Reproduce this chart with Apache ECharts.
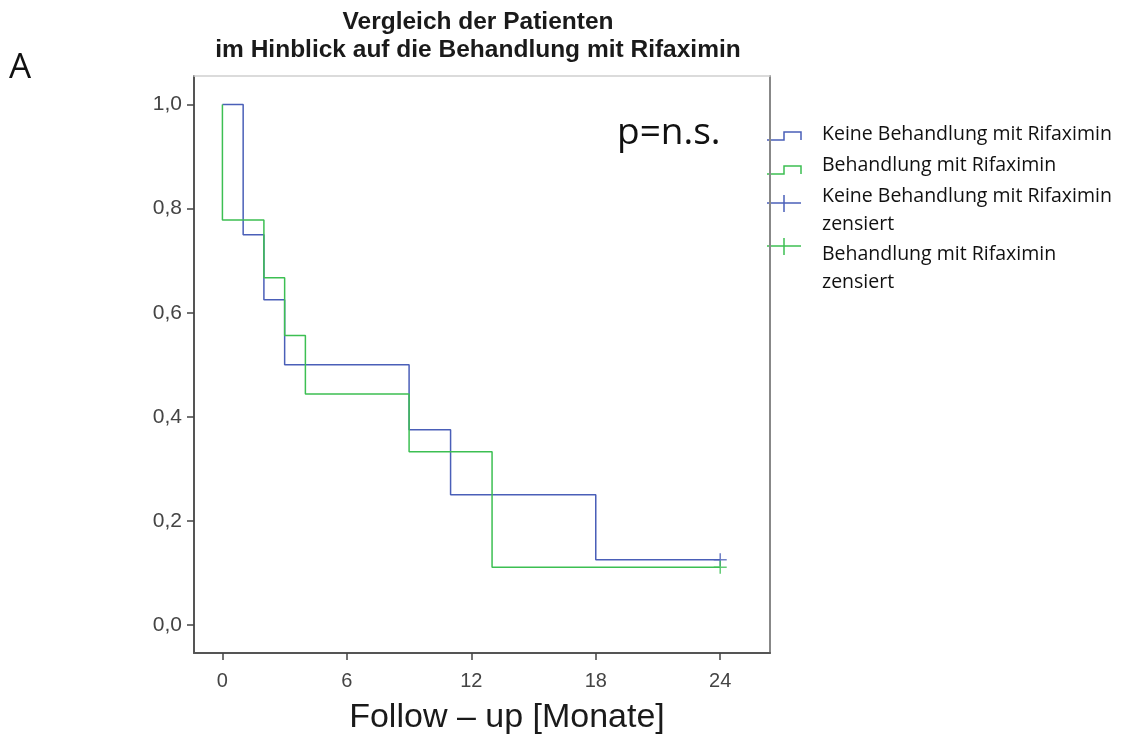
<!DOCTYPE html>
<html>
<head>
<meta charset="utf-8">
<script src="https://cdn.jsdelivr.net/npm/echarts@6/dist/echarts.min.js"></script>
<style>
html, body { margin: 0; padding: 0; background: #fff; }
#main { width: 1131px; height: 740px; }
</style>
</head>
<body>
<div id="main"></div>
<script>
// Kaplan-Meier Daten (Monate, Anteil)
var keineTime = [0, 1, 2, 3, 9, 11, 18, 24];
var keineSurv = [1.0, 0.75, 0.625, 0.5, 0.375, 0.25, 0.125, 0.125];
var rifaTime = [0, 0, 2, 3, 4, 9, 13, 24];
var rifaSurv = [1.0, 0.778, 0.667, 0.556, 0.444, 0.333, 0.111, 0.111];
// zensierte Fälle
var keineCensTime = [24];
var keineCensSurv = [0.125];
var rifaCensTime = [24];
var rifaCensSurv = [0.111];

var xTicks = [0, 6, 12, 18, 24];
var yTicks = [0, 0.2, 0.4, 0.6, 0.8, 1.0];

var BLUE = '#4a5fb8';
var GREEN = '#3cbf52';
var PLUS = 'path://M0,5 L10,5 M5,0 L5,10';
var TICKFONT = '"Liberation Sans", Arial, sans-serif';

function pairs(xs, ys) {
	return xs.map(function (x, i) { return [x, ys[i]]; });
}

var chart = echarts.init(document.getElementById('main'));

var option = {
	animation: false,
	backgroundColor: '#fff',
	title: {
		text: 'Vergleich der Patienten\nim Hinblick auf die Behandlung mit Rifaximin',
		left: 473,
		top: 3,
		textAlign: 'center',
		textStyle: {
			fontFamily: 'Liberation Sans',
			fontWeight: 'bold',
			fontSize: 24.5,
			lineHeight: 28,
			color: '#1a1a1a'
		}
	},
	grid: { left: 194, right: 361, top: 76, bottom: 86 },
	xAxis: [
		{
			type: 'value',
			min: -1.37,
			max: 26.4,
			splitLine: { show: false },
			axisLine: { onZero: false, lineStyle: { color: '#555', width: 2 } },
			axisTick: { show: true, length: 7, customValues: xTicks, lineStyle: { color: '#444', width: 1.5 } },
			axisLabel: {
				customValues: xTicks,
				fontFamily: TICKFONT,
				fontSize: 20,
				color: '#444',
				margin: 18
			},
			name: 'Follow – up [Monate]',
			nameLocation: 'middle',
			nameGap: 48,
			nameTextStyle: { fontFamily: 'Liberation Sans', fontSize: 34, color: '#1a1a1a', padding: [0, 0, 0, 50] }
		},
		{
			type: 'value',
			position: 'top',
			min: -1.37,
			max: 26.4,
			splitLine: { show: false },
			axisLine: { show: true, onZero: false, lineStyle: { color: '#d0d0d0', width: 1.5 } },
			axisTick: { show: false },
			axisLabel: { show: false }
		}
	],
	yAxis: [
		{
			type: 'value',
			min: -0.054,
			max: 1.055,
			splitLine: { show: false },
			axisLine: { show: true, onZero: false, lineStyle: { color: '#555', width: 2 } },
			axisTick: { show: true, length: 7, customValues: yTicks, lineStyle: { color: '#444', width: 1.5 } },
			axisLabel: {
				customValues: yTicks,
				fontFamily: TICKFONT,
				fontSize: 21,
				color: '#444',
				margin: 12,
				padding: [4, 0, 0, 0],
				formatter: function (v) { return v.toFixed(1).replace('.', ','); }
			}
		},
		{
			type: 'value',
			position: 'right',
			min: -0.054,
			max: 1.055,
			splitLine: { show: false },
			axisLine: { show: true, onZero: false, lineStyle: { color: '#888', width: 2 } },
			axisTick: { show: false },
			axisLabel: { show: false }
		}
	],
	series: [
		{
			name: 'Keine Behandlung mit Rifaximin',
			type: 'line',
			step: 'end',
			showSymbol: false,
			data: pairs(keineTime, keineSurv),
			lineStyle: { color: BLUE, width: 1.5 }
		},
		{
			name: 'Behandlung mit Rifaximin',
			type: 'line',
			step: 'end',
			showSymbol: false,
			data: pairs(rifaTime, rifaSurv),
			lineStyle: { color: GREEN, width: 1.5 }
		},
		{
			name: 'Keine Behandlung mit Rifaximin zensiert',
			type: 'scatter',
			symbol: PLUS,
			symbolSize: 13,
			itemStyle: { color: 'none', borderColor: BLUE, borderWidth: 1.5 },
			data: pairs(keineCensTime, keineCensSurv)
		},
		{
			name: 'Behandlung mit Rifaximin zensiert',
			type: 'scatter',
			symbol: PLUS,
			symbolSize: 13,
			itemStyle: { color: 'none', borderColor: GREEN, borderWidth: 1.5 },
			data: pairs(rifaCensTime, rifaCensSurv)
		}
	],
	graphic: [
		{ type: 'text', left: 9, top: 51, style: { text: 'A', font: '35px "Open Sans"', fill: '#111' } },
		{ type: 'text', left: 617, top: 115, style: { text: 'p=n.s.', font: '37px "Open Sans"', fill: '#111' } },
		// Legende
		{ type: 'polyline', shape: { points: [[767, 140], [784, 140], [784, 132], [801, 132], [801, 140]] }, style: { stroke: BLUE, lineWidth: 1.5, fill: null } },
		{ type: 'polyline', shape: { points: [[767, 174], [784, 174], [784, 166], [801, 166], [801, 174]] }, style: { stroke: GREEN, lineWidth: 1.5, fill: null } },
		{ type: 'polyline', shape: { points: [[767, 203], [801, 203]] }, style: { stroke: BLUE, lineWidth: 1.5 } },
		{ type: 'polyline', shape: { points: [[784, 195], [784, 212]] }, style: { stroke: BLUE, lineWidth: 1.5 } },
		{ type: 'polyline', shape: { points: [[767, 246], [801, 246]] }, style: { stroke: GREEN, lineWidth: 1.5 } },
		{ type: 'polyline', shape: { points: [[784, 238], [784, 255]] }, style: { stroke: GREEN, lineWidth: 1.5 } },
		{ type: 'text', left: 822, top: 124, style: { text: 'Keine Behandlung mit Rifaximin', font: '19.5px "Open Sans"', fill: '#111' } },
		{ type: 'text', left: 822, top: 155, style: { text: 'Behandlung mit Rifaximin', font: '19.5px "Open Sans"', fill: '#111' } },
		{ type: 'text', left: 822, top: 183, style: { text: 'Keine Behandlung mit Rifaximin\nzensiert', font: '19.5px "Open Sans"', lineHeight: 27.5, fill: '#111' } },
		{ type: 'text', left: 822, top: 240, style: { text: 'Behandlung mit Rifaximin\nzensiert', font: '19.5px "Open Sans"', lineHeight: 28, fill: '#111' } }
	]
};

chart.setOption(option);
</script>
</body>
</html>
